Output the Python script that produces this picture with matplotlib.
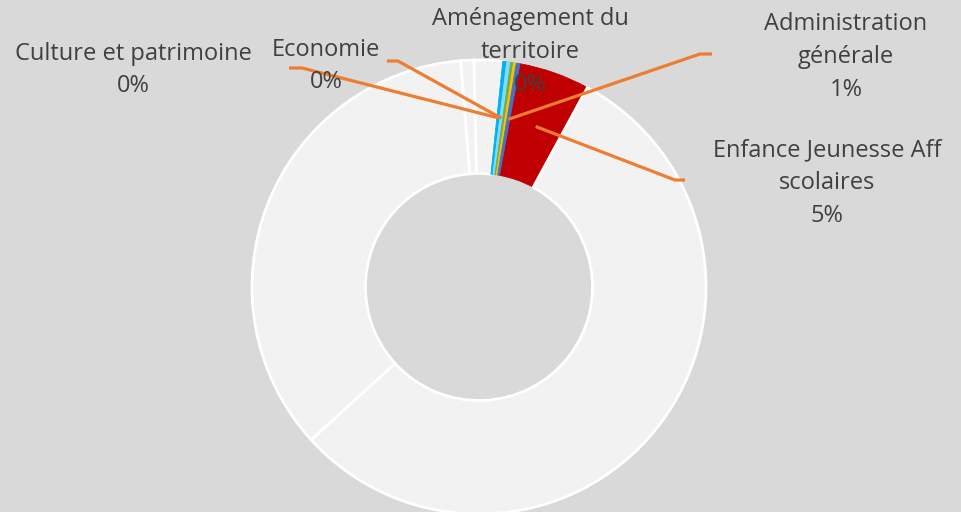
import matplotlib.pyplot as plt
import numpy as np

# slices clockwise from (just left of) 12 o'clock
categories = ["", "Culture et patrimoine", "Economie", "", "Aménagement du\nterritoire",
              "Administration\ngénérale", "Enfance Jeunesse Aff\nscolaires", "", "", ""]
values = [2.03, 0.28, 0.28, 0.2, 0.2, 0.26, 5.03, 55.33, 35.47, 0.92]
pct_labels = ["", "0%", "0%", "", "0%", "1%", "5%", "", "", ""]
colors = ['#f2f2f2', '#00b0f0', '#7fdcff', '#70ad47', '#ffc000', '#4472c4',
          '#c00000', '#f2f2f2', '#f2f2f2', '#f2f2f2']

plt.rcParams['font.family'] = ['Open Sans', 'DejaVu Sans']

W, H = 961, 512
fig = plt.figure(figsize=(W / 100, H / 100), dpi=100)
fig.patch.set_facecolor('#d9d9d9')
ax = fig.add_axes([0, 0, 1, 1])
ax.set_facecolor('#d9d9d9')

cx, cy, R = 479, H - 287, 227
wedges, _ = ax.pie(values, colors=colors, startangle=91.3, counterclock=False,
                   center=(cx, cy), radius=R,
                   wedgeprops=dict(width=R * 0.5, edgecolor='white', linewidth=2))
# the thin coloured slices have no white border between them
for w, c in zip(wedges[1:6], colors[1:6]):
    w.set_edgecolor(c)
    w.set_linewidth(0.6)
    w.set_zorder(2)
wedges[6].set_edgecolor('#c00000')
wedges[6].set_linewidth(0.6)

ax.set_xlim(0, W)
ax.set_ylim(0, H)
ax.set_aspect('equal')
ax.axis('off')

# label centre (pixels, y up) and start of the leader line
text_pos = {1: (133, 442), 2: (326, 446), 4: (530, 460), 5: (846, 455), 6: (827, 329)}
leader = {1: [(289, 444), (302, 444)], 2: [(387, 451), (398, 451)],
          5: [(712, 458), (700, 458)], 6: [(685, 332), (675, 332)]}

for i, (x, y) in text_pos.items():
    ax.text(x, y, categories[i] + "\n" + pct_labels[i], ha='center', va='center',
            multialignment='center', fontsize=17, color='#404040',
            linespacing=1.5, zorder=5)
    if i in leader:
        w = wedges[i]
        mid = np.deg2rad((w.theta1 + w.theta2) / 2)
        ax_, ay_ = cx + 0.75 * R * np.cos(mid), cy + 0.75 * R * np.sin(mid)
        pts = leader[i] + [(ax_, ay_)]
        ax.plot([p[0] for p in pts], [p[1] for p in pts], color='#ed7d31',
                lw=2.3, zorder=4, solid_capstyle='butt')

fig.savefig('out.png', dpi=100, facecolor=fig.get_facecolor())
